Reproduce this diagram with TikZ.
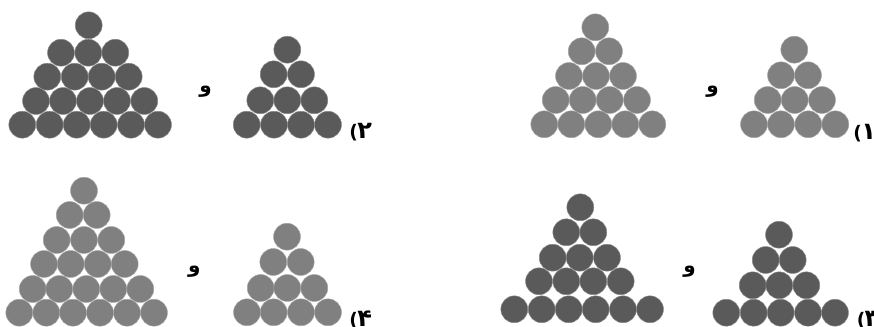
\documentclass[tikz,border=0pt]{standalone}
\usepackage{fontspec}
\newfontfamily\arabicfont[Script=Arabic]{DejaVu Sans Bold}
\newfontfamily\digitfont{DejaVu Sans Bold}
\TeXXeTstate=1
\definecolor{darkball}{HTML}{5A5A5A}
\definecolor{lightball}{HTML}{808080}
\tikzset{
  ball/.style={line width=0.35pt,draw=#1!70!white,fill=#1},
  lab/.style={font=\arabicfont\fontsize{15}{15}\selectfont,inner sep=0pt,text=black},
  opt/.style={font=\digitfont\fontsize{14}{14}\selectfont,inner sep=0pt,text=black},
}
\newcommand{\ballrow}[3]{\foreach \bx in {#3} {\path[ball=#1] (\bx,#2) circle[radius=10.1pt];}}
\newcommand{\optlabel}[1]{(\kern-0.5pt{\fontsize{18}{18}\selectfont #1}}
\begin{document}
\begin{tikzpicture}[x=0.75pt,y=-0.75pt]
\useasboundingbox (0,0) rectangle (874,327);
% top left
\ballrow{darkball}{25.3}{88.7}
\ballrow{darkball}{52.7}{61,88.3,115.3}
\ballrow{darkball}{76.7}{47.3,74.7,101.7,128.7}
\ballrow{darkball}{101}{36,63,90,117,144.3}
\ballrow{darkball}{124.7}{22.3,49.7,76.7,103.7,131,158}
\ballrow{darkball}{49.7}{287.3}
\ballrow{darkball}{74.3}{273.7,301}
\ballrow{darkball}{100.3}{260.3,287.3,314.3}
\ballrow{darkball}{124.7}{246.7,274,301,328}
\node[lab] (and2) at (205.7,91.5) {\beginR و\endR};
\node[opt] (opt2) at (360.7,132) {\optlabel{۲}};
% top right
\ballrow{lightball}{27.3}{595.3}
\ballrow{lightball}{51.3}{581.7,609}
\ballrow{lightball}{76}{569,596,623}
\ballrow{lightball}{100}{555.7,582.7,609.7,637}
\ballrow{lightball}{124.3}{544.3,571.3,598.3,625.3,652.3}
\ballrow{lightball}{49.7}{794.3}
\ballrow{lightball}{75.3}{781,808}
\ballrow{lightball}{100}{767.7,794.7,822}
\ballrow{lightball}{124.3}{754,781,808.3,835.3}
\node[lab] (and1) at (712.7,92) {\beginR و\endR};
\node[opt] (opt1) at (864.7,133) {\optlabel{۱}};
% bottom left
\ballrow{lightball}{190.7}{84}
\ballrow{lightball}{215}{69.7,96.7}
\ballrow{lightball}{240}{56.7,84,111.3}
\ballrow{lightball}{264}{44,70.7,97.7,124.7}
\ballrow{lightball}{289}{32.7,59.3,86.3,113.3,140.3}
\ballrow{lightball}{312.7}{19.3,46.3,73,100,127,154}
\ballrow{lightball}{236.7}{287}
\ballrow{lightball}{262}{273.3,300.7}
\ballrow{lightball}{288}{260.7,287.3,314.3}
\ballrow{lightball}{312.3}{247,273.7,301,328}
\node[lab] (and4) at (194.3,272) {\beginR و\endR};
\node[opt] (opt4) at (360.7,320) {\optlabel{۴}};
% bottom right
\ballrow{darkball}{207.3}{580.3}
\ballrow{darkball}{232.3}{566.3,593.3}
\ballrow{darkball}{257.7}{552.7,579.7,607}
\ballrow{darkball}{281.3}{539,566.3,593.3,620.7}
\ballrow{darkball}{309.3}{514.3,541.7,568.7,595.7,623,650}
\ballrow{darkball}{234.7}{779}
\ballrow{darkball}{260}{765.7,792.7}
\ballrow{darkball}{285.3}{752.7,779.3,806.3}
\ballrow{darkball}{312.7}{726.3,753.7,780.7,808,835}
\node[lab] (and3) at (689.7,272) {\beginR و\endR};
\node[opt] (opt3) at (868,320) {\optlabel{۳}};
\end{tikzpicture}
\end{document}
